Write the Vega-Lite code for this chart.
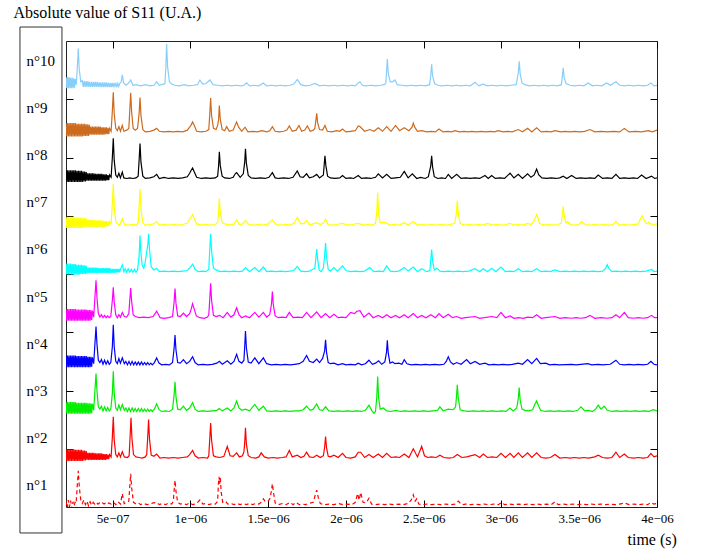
{
"$schema": "https://vega.github.io/schema/vega-lite/v6.json",
"width": 591, "height": 466,
"autosize": {"type": "none"},
"padding": {"left": 66, "top": 41, "right": 45, "bottom": 45},
"background": "white",
"config": {"view": {"stroke": "#222", "strokeWidth": 1}, "axis": {"labelFont": "Liberation Serif", "titleFont": "Liberation Serif", "labelColor": "#000", "titleColor": "#000", "tickColor": "#000", "grid": false, "domain": false}},
"data": {"values": [
{"k":10,"t":200,"y":7.38},{"k":10,"t":205,"y":7.19},{"k":10,"t":210,"y":7.38},{"k":10,"t":215,"y":7.19},{"k":10,"t":220,"y":7.38},{"k":10,"t":225,"y":7.19},{"k":10,"t":230,"y":7.37},{"k":10,"t":235,"y":7.19},{"k":10,"t":240,"y":7.37},{"k":10,"t":245,"y":7.19},{"k":10,"t":250,"y":7.36},{"k":10,"t":255,"y":7.20},{"k":10,"t":260,"y":7.35},{"k":10,"t":266,"y":7.25},{"k":10,"t":273,"y":7.55},{"k":10,"t":279,"y":7.87},{"k":10,"t":285,"y":7.52},{"k":10,"t":295,"y":7.30},{"k":10,"t":305,"y":7.32},{"k":10,"t":311,"y":7.21},{"k":10,"t":317,"y":7.31},{"k":10,"t":323,"y":7.21},{"k":10,"t":329,"y":7.31},{"k":10,"t":335,"y":7.21},{"k":10,"t":341,"y":7.31},{"k":10,"t":347,"y":7.21},{"k":10,"t":353,"y":7.30},{"k":10,"t":359,"y":7.21},{"k":10,"t":365,"y":7.30},{"k":10,"t":371,"y":7.21},{"k":10,"t":377,"y":7.30},{"k":10,"t":383,"y":7.21},{"k":10,"t":389,"y":7.30},{"k":10,"t":395,"y":7.21},{"k":10,"t":401,"y":7.30},{"k":10,"t":407,"y":7.21},{"k":10,"t":413,"y":7.29},{"k":10,"t":419,"y":7.21},{"k":10,"t":425,"y":7.29},{"k":10,"t":431,"y":7.21},{"k":10,"t":437,"y":7.29},{"k":10,"t":443,"y":7.21},{"k":10,"t":449,"y":7.29},{"k":10,"t":455,"y":7.21},{"k":10,"t":461,"y":7.29},{"k":10,"t":467,"y":7.21},{"k":10,"t":473,"y":7.28},{"k":10,"t":479,"y":7.21},{"k":10,"t":485,"y":7.28},{"k":10,"t":491,"y":7.21},{"k":10,"t":497,"y":7.28},{"k":10,"t":503,"y":7.21},{"k":10,"t":509,"y":7.28},{"k":10,"t":515,"y":7.22},{"k":10,"t":521,"y":7.27},{"k":10,"t":527,"y":7.22},{"k":10,"t":533,"y":7.27},{"k":10,"t":539,"y":7.22},{"k":10,"t":545,"y":7.27},{"k":10,"t":555,"y":7.30},{"k":10,"t":562,"y":7.42},{"k":10,"t":570,"y":7.28},{"k":10,"t":585,"y":7.24},{"k":10,"t":600,"y":7.27},{"k":10,"t":616,"y":7.33},{"k":10,"t":630,"y":7.24},{"k":10,"t":650,"y":7.25},{"k":10,"t":680,"y":7.23},{"k":10,"t":710,"y":7.25},{"k":10,"t":740,"y":7.23},{"k":10,"t":765,"y":7.24},{"k":10,"t":783,"y":7.30},{"k":10,"t":800,"y":7.24},{"k":10,"t":825,"y":7.26},{"k":10,"t":836,"y":7.27},{"k":10,"t":842,"y":7.55},{"k":10,"t":847,"y":7.95},{"k":10,"t":853,"y":7.56},{"k":10,"t":865,"y":7.30},{"k":10,"t":880,"y":7.26},{"k":10,"t":900,"y":7.24},{"k":10,"t":930,"y":7.23},{"k":10,"t":960,"y":7.25},{"k":10,"t":990,"y":7.23},{"k":10,"t":1020,"y":7.24},{"k":10,"t":1045,"y":7.25},{"k":10,"t":1061,"y":7.33},{"k":10,"t":1080,"y":7.26},{"k":10,"t":1100,"y":7.27},{"k":10,"t":1126,"y":7.33},{"k":10,"t":1145,"y":7.25},{"k":10,"t":1175,"y":7.24},{"k":10,"t":1205,"y":7.23},{"k":10,"t":1235,"y":7.24},{"k":10,"t":1265,"y":7.23},{"k":10,"t":1295,"y":7.24},{"k":10,"t":1325,"y":7.23},{"k":10,"t":1345,"y":7.24},{"k":10,"t":1361,"y":7.28},{"k":10,"t":1380,"y":7.23},{"k":10,"t":1410,"y":7.24},{"k":10,"t":1440,"y":7.23},{"k":10,"t":1469,"y":7.28},{"k":10,"t":1490,"y":7.23},{"k":10,"t":1520,"y":7.24},{"k":10,"t":1550,"y":7.23},{"k":10,"t":1580,"y":7.24},{"k":10,"t":1610,"y":7.23},{"k":10,"t":1640,"y":7.24},{"k":10,"t":1665,"y":7.26},{"k":10,"t":1687,"y":7.34},{"k":10,"t":1710,"y":7.25},{"k":10,"t":1740,"y":7.23},{"k":10,"t":1770,"y":7.24},{"k":10,"t":1801,"y":7.27},{"k":10,"t":1830,"y":7.23},{"k":10,"t":1860,"y":7.24},{"k":10,"t":1890,"y":7.23},{"k":10,"t":1920,"y":7.24},{"k":10,"t":1950,"y":7.23},{"k":10,"t":1980,"y":7.24},{"k":10,"t":2010,"y":7.23},{"k":10,"t":2040,"y":7.24},{"k":10,"t":2060,"y":7.23},{"k":10,"t":2079,"y":7.28},{"k":10,"t":2090,"y":7.30},{"k":10,"t":2105,"y":7.24},{"k":10,"t":2130,"y":7.23},{"k":10,"t":2160,"y":7.24},{"k":10,"t":2190,"y":7.23},{"k":10,"t":2220,"y":7.24},{"k":10,"t":2245,"y":7.25},{"k":10,"t":2256,"y":7.27},{"k":10,"t":2261,"y":7.46},{"k":10,"t":2266,"y":7.69},{"k":10,"t":2272,"y":7.45},{"k":10,"t":2285,"y":7.30},{"k":10,"t":2300,"y":7.30},{"k":10,"t":2315,"y":7.33},{"k":10,"t":2330,"y":7.25},{"k":10,"t":2360,"y":7.24},{"k":10,"t":2390,"y":7.23},{"k":10,"t":2420,"y":7.24},{"k":10,"t":2450,"y":7.23},{"k":10,"t":2480,"y":7.24},{"k":10,"t":2510,"y":7.23},{"k":10,"t":2538,"y":7.25},{"k":10,"t":2545,"y":7.40},{"k":10,"t":2551,"y":7.60},{"k":10,"t":2557,"y":7.40},{"k":10,"t":2570,"y":7.27},{"k":10,"t":2590,"y":7.24},{"k":10,"t":2620,"y":7.23},{"k":10,"t":2650,"y":7.24},{"k":10,"t":2680,"y":7.23},{"k":10,"t":2710,"y":7.24},{"k":10,"t":2740,"y":7.23},{"k":10,"t":2770,"y":7.24},{"k":10,"t":2800,"y":7.23},{"k":10,"t":2830,"y":7.29},{"k":10,"t":2855,"y":7.23},{"k":10,"t":2883,"y":7.26},{"k":10,"t":2910,"y":7.23},{"k":10,"t":2940,"y":7.24},{"k":10,"t":2970,"y":7.23},{"k":10,"t":3000,"y":7.24},{"k":10,"t":3030,"y":7.23},{"k":10,"t":3060,"y":7.24},{"k":10,"t":3095,"y":7.25},{"k":10,"t":3108,"y":7.45},{"k":10,"t":3114,"y":7.65},{"k":10,"t":3120,"y":7.44},{"k":10,"t":3132,"y":7.28},{"k":10,"t":3150,"y":7.25},{"k":10,"t":3180,"y":7.23},{"k":10,"t":3210,"y":7.24},{"k":10,"t":3240,"y":7.23},{"k":10,"t":3270,"y":7.24},{"k":10,"t":3300,"y":7.23},{"k":10,"t":3330,"y":7.24},{"k":10,"t":3360,"y":7.23},{"k":10,"t":3385,"y":7.25},{"k":10,"t":3391,"y":7.38},{"k":10,"t":3397,"y":7.54},{"k":10,"t":3403,"y":7.37},{"k":10,"t":3415,"y":7.27},{"k":10,"t":3440,"y":7.24},{"k":10,"t":3470,"y":7.23},{"k":10,"t":3500,"y":7.24},{"k":10,"t":3530,"y":7.23},{"k":10,"t":3558,"y":7.28},{"k":10,"t":3585,"y":7.23},{"k":10,"t":3615,"y":7.24},{"k":10,"t":3645,"y":7.23},{"k":10,"t":3676,"y":7.28},{"k":10,"t":3700,"y":7.24},{"k":10,"t":3736,"y":7.30},{"k":10,"t":3760,"y":7.24},{"k":10,"t":3790,"y":7.23},{"k":10,"t":3820,"y":7.24},{"k":10,"t":3850,"y":7.23},{"k":10,"t":3880,"y":7.24},{"k":10,"t":3910,"y":7.23},{"k":10,"t":3940,"y":7.24},{"k":10,"t":3961,"y":7.28},{"k":10,"t":3980,"y":7.23},{"k":10,"t":4000,"y":7.24},
{"k":9,"t":200,"y":6.59},{"k":9,"t":205,"y":6.36},{"k":9,"t":210,"y":6.59},{"k":9,"t":215,"y":6.36},{"k":9,"t":220,"y":6.59},{"k":9,"t":225,"y":6.36},{"k":9,"t":230,"y":6.59},{"k":9,"t":235,"y":6.36},{"k":9,"t":240,"y":6.59},{"k":9,"t":245,"y":6.36},{"k":9,"t":250,"y":6.59},{"k":9,"t":255,"y":6.36},{"k":9,"t":260,"y":6.59},{"k":9,"t":265,"y":6.36},{"k":9,"t":270,"y":6.58},{"k":9,"t":275,"y":6.36},{"k":9,"t":280,"y":6.58},{"k":9,"t":285,"y":6.36},{"k":9,"t":290,"y":6.58},{"k":9,"t":295,"y":6.36},{"k":9,"t":300,"y":6.58},{"k":9,"t":305,"y":6.36},{"k":9,"t":310,"y":6.58},{"k":9,"t":315,"y":6.37},{"k":9,"t":320,"y":6.58},{"k":9,"t":325,"y":6.37},{"k":9,"t":330,"y":6.57},{"k":9,"t":335,"y":6.37},{"k":9,"t":340,"y":6.57},{"k":9,"t":345,"y":6.37},{"k":9,"t":350,"y":6.56},{"k":9,"t":355,"y":6.39},{"k":9,"t":360,"y":6.53},{"k":9,"t":365,"y":6.39},{"k":9,"t":370,"y":6.53},{"k":9,"t":375,"y":6.39},{"k":9,"t":380,"y":6.53},{"k":9,"t":385,"y":6.39},{"k":9,"t":390,"y":6.53},{"k":9,"t":395,"y":6.39},{"k":9,"t":400,"y":6.53},{"k":9,"t":405,"y":6.39},{"k":9,"t":410,"y":6.53},{"k":9,"t":415,"y":6.39},{"k":9,"t":420,"y":6.53},{"k":9,"t":425,"y":6.39},{"k":9,"t":430,"y":6.52},{"k":9,"t":435,"y":6.39},{"k":9,"t":440,"y":6.52},{"k":9,"t":445,"y":6.39},{"k":9,"t":450,"y":6.52},{"k":9,"t":455,"y":6.40},{"k":9,"t":460,"y":6.52},{"k":9,"t":465,"y":6.40},{"k":9,"t":470,"y":6.51},{"k":9,"t":475,"y":6.40},{"k":9,"t":480,"y":6.50},{"k":9,"t":490,"y":6.45},{"k":9,"t":498,"y":6.80},{"k":9,"t":504,"y":7.12},{"k":9,"t":510,"y":6.75},{"k":9,"t":520,"y":6.50},{"k":9,"t":530,"y":6.46},{"k":9,"t":540,"y":6.53},{"k":9,"t":550,"y":6.45},{"k":9,"t":562,"y":6.55},{"k":9,"t":572,"y":6.45},{"k":9,"t":590,"y":6.47},{"k":9,"t":604,"y":6.50},{"k":9,"t":610,"y":6.80},{"k":9,"t":616,"y":7.11},{"k":9,"t":622,"y":6.78},{"k":9,"t":632,"y":6.50},{"k":9,"t":645,"y":6.47},{"k":9,"t":660,"y":6.50},{"k":9,"t":670,"y":6.75},{"k":9,"t":676,"y":7.03},{"k":9,"t":682,"y":6.72},{"k":9,"t":694,"y":6.48},{"k":9,"t":710,"y":6.44},{"k":9,"t":740,"y":6.45},{"k":9,"t":765,"y":6.47},{"k":9,"t":783,"y":6.50},{"k":9,"t":800,"y":6.45},{"k":9,"t":830,"y":6.44},{"k":9,"t":860,"y":6.45},{"k":9,"t":890,"y":6.44},{"k":9,"t":920,"y":6.45},{"k":9,"t":950,"y":6.44},{"k":9,"t":980,"y":6.47},{"k":9,"t":995,"y":6.52},{"k":9,"t":1005,"y":6.56},{"k":9,"t":1014,"y":6.61},{"k":9,"t":1025,"y":6.55},{"k":9,"t":1040,"y":6.45},{"k":9,"t":1070,"y":6.44},{"k":9,"t":1100,"y":6.45},{"k":9,"t":1118,"y":6.48},{"k":9,"t":1124,"y":6.72},{"k":9,"t":1130,"y":7.02},{"k":9,"t":1136,"y":6.72},{"k":9,"t":1148,"y":6.50},{"k":9,"t":1165,"y":6.48},{"k":9,"t":1175,"y":6.55},{"k":9,"t":1181,"y":6.65},{"k":9,"t":1186,"y":6.89},{"k":9,"t":1192,"y":6.66},{"k":9,"t":1204,"y":6.48},{"k":9,"t":1220,"y":6.46},{"k":9,"t":1233,"y":6.53},{"k":9,"t":1250,"y":6.45},{"k":9,"t":1275,"y":6.47},{"k":9,"t":1287,"y":6.55},{"k":9,"t":1297,"y":6.61},{"k":9,"t":1310,"y":6.52},{"k":9,"t":1330,"y":6.45},{"k":9,"t":1351,"y":6.52},{"k":9,"t":1370,"y":6.44},{"k":9,"t":1400,"y":6.45},{"k":9,"t":1430,"y":6.44},{"k":9,"t":1460,"y":6.46},{"k":9,"t":1490,"y":6.44},{"k":9,"t":1510,"y":6.46},{"k":9,"t":1527,"y":6.53},{"k":9,"t":1545,"y":6.45},{"k":9,"t":1570,"y":6.44},{"k":9,"t":1600,"y":6.45},{"k":9,"t":1620,"y":6.47},{"k":9,"t":1636,"y":6.54},{"k":9,"t":1655,"y":6.45},{"k":9,"t":1680,"y":6.47},{"k":9,"t":1698,"y":6.55},{"k":9,"t":1715,"y":6.45},{"k":9,"t":1735,"y":6.47},{"k":9,"t":1752,"y":6.54},{"k":9,"t":1770,"y":6.45},{"k":9,"t":1790,"y":6.47},{"k":9,"t":1800,"y":6.50},{"k":9,"t":1806,"y":6.62},{"k":9,"t":1812,"y":6.76},{"k":9,"t":1818,"y":6.60},{"k":9,"t":1830,"y":6.48},{"k":9,"t":1850,"y":6.47},{"k":9,"t":1865,"y":6.55},{"k":9,"t":1880,"y":6.45},{"k":9,"t":1910,"y":6.44},{"k":9,"t":1940,"y":6.46},{"k":9,"t":1960,"y":6.45},{"k":9,"t":1978,"y":6.49},{"k":9,"t":2000,"y":6.44},{"k":9,"t":2030,"y":6.45},{"k":9,"t":2060,"y":6.46},{"k":9,"t":2079,"y":6.54},{"k":9,"t":2090,"y":6.53},{"k":9,"t":2120,"y":6.45},{"k":9,"t":2154,"y":6.48},{"k":9,"t":2180,"y":6.45},{"k":9,"t":2208,"y":6.51},{"k":9,"t":2235,"y":6.45},{"k":9,"t":2262,"y":6.53},{"k":9,"t":2290,"y":6.45},{"k":9,"t":2319,"y":6.55},{"k":9,"t":2345,"y":6.46},{"k":9,"t":2375,"y":6.51},{"k":9,"t":2405,"y":6.46},{"k":9,"t":2425,"y":6.52},{"k":9,"t":2433,"y":6.59},{"k":9,"t":2442,"y":6.52},{"k":9,"t":2460,"y":6.45},{"k":9,"t":2487,"y":6.46},{"k":9,"t":2520,"y":6.44},{"k":9,"t":2550,"y":6.45},{"k":9,"t":2575,"y":6.44},{"k":9,"t":2598,"y":6.49},{"k":9,"t":2625,"y":6.44},{"k":9,"t":2655,"y":6.45},{"k":9,"t":2680,"y":6.44},{"k":9,"t":2701,"y":6.46},{"k":9,"t":2730,"y":6.44},{"k":9,"t":2760,"y":6.45},{"k":9,"t":2785,"y":6.44},{"k":9,"t":2808,"y":6.45},{"k":9,"t":2840,"y":6.44},{"k":9,"t":2870,"y":6.45},{"k":9,"t":2900,"y":6.44},{"k":9,"t":2930,"y":6.45},{"k":9,"t":2955,"y":6.44},{"k":9,"t":2979,"y":6.46},{"k":9,"t":3010,"y":6.44},{"k":9,"t":3040,"y":6.45},{"k":9,"t":3070,"y":6.44},{"k":9,"t":3108,"y":6.48},{"k":9,"t":3135,"y":6.44},{"k":9,"t":3168,"y":6.50},{"k":9,"t":3195,"y":6.44},{"k":9,"t":3226,"y":6.51},{"k":9,"t":3255,"y":6.44},{"k":9,"t":3290,"y":6.45},{"k":9,"t":3320,"y":6.44},{"k":9,"t":3344,"y":6.46},{"k":9,"t":3380,"y":6.44},{"k":9,"t":3410,"y":6.45},{"k":9,"t":3440,"y":6.44},{"k":9,"t":3470,"y":6.45},{"k":9,"t":3500,"y":6.44},{"k":9,"t":3535,"y":6.45},{"k":9,"t":3569,"y":6.48},{"k":9,"t":3600,"y":6.44},{"k":9,"t":3640,"y":6.45},{"k":9,"t":3680,"y":6.44},{"k":9,"t":3720,"y":6.45},{"k":9,"t":3760,"y":6.44},{"k":9,"t":3790,"y":6.50},{"k":9,"t":3820,"y":6.44},{"k":9,"t":3860,"y":6.45},{"k":9,"t":3900,"y":6.44},{"k":9,"t":3944,"y":6.46},{"k":9,"t":3970,"y":6.44},{"k":9,"t":4000,"y":6.47},
{"k":8,"t":200,"y":5.78},{"k":8,"t":205,"y":5.58},{"k":8,"t":210,"y":5.78},{"k":8,"t":215,"y":5.58},{"k":8,"t":220,"y":5.78},{"k":8,"t":225,"y":5.58},{"k":8,"t":230,"y":5.78},{"k":8,"t":235,"y":5.58},{"k":8,"t":240,"y":5.78},{"k":8,"t":245,"y":5.58},{"k":8,"t":250,"y":5.78},{"k":8,"t":255,"y":5.58},{"k":8,"t":260,"y":5.78},{"k":8,"t":265,"y":5.58},{"k":8,"t":270,"y":5.77},{"k":8,"t":275,"y":5.58},{"k":8,"t":280,"y":5.77},{"k":8,"t":285,"y":5.58},{"k":8,"t":290,"y":5.77},{"k":8,"t":295,"y":5.58},{"k":8,"t":300,"y":5.77},{"k":8,"t":305,"y":5.58},{"k":8,"t":310,"y":5.76},{"k":8,"t":315,"y":5.59},{"k":8,"t":320,"y":5.76},{"k":8,"t":325,"y":5.59},{"k":8,"t":330,"y":5.75},{"k":8,"t":335,"y":5.60},{"k":8,"t":340,"y":5.73},{"k":8,"t":345,"y":5.60},{"k":8,"t":350,"y":5.73},{"k":8,"t":355,"y":5.60},{"k":8,"t":360,"y":5.73},{"k":8,"t":365,"y":5.60},{"k":8,"t":370,"y":5.73},{"k":8,"t":375,"y":5.60},{"k":8,"t":380,"y":5.73},{"k":8,"t":385,"y":5.60},{"k":8,"t":390,"y":5.72},{"k":8,"t":395,"y":5.60},{"k":8,"t":400,"y":5.72},{"k":8,"t":405,"y":5.60},{"k":8,"t":410,"y":5.72},{"k":8,"t":415,"y":5.60},{"k":8,"t":420,"y":5.72},{"k":8,"t":425,"y":5.60},{"k":8,"t":430,"y":5.72},{"k":8,"t":435,"y":5.60},{"k":8,"t":440,"y":5.71},{"k":8,"t":445,"y":5.60},{"k":8,"t":450,"y":5.71},{"k":8,"t":455,"y":5.60},{"k":8,"t":460,"y":5.71},{"k":8,"t":465,"y":5.61},{"k":8,"t":470,"y":5.70},{"k":8,"t":475,"y":5.61},{"k":8,"t":480,"y":5.70},{"k":8,"t":490,"y":5.66},{"k":8,"t":498,"y":6.00},{"k":8,"t":504,"y":6.33},{"k":8,"t":510,"y":5.95},{"k":8,"t":520,"y":5.70},{"k":8,"t":530,"y":5.66},{"k":8,"t":540,"y":5.73},{"k":8,"t":550,"y":5.65},{"k":8,"t":562,"y":5.75},{"k":8,"t":572,"y":5.65},{"k":8,"t":590,"y":5.64},{"k":8,"t":610,"y":5.65},{"k":8,"t":630,"y":5.64},{"k":8,"t":650,"y":5.65},{"k":8,"t":664,"y":5.68},{"k":8,"t":670,"y":5.95},{"k":8,"t":676,"y":6.24},{"k":8,"t":682,"y":5.92},{"k":8,"t":694,"y":5.68},{"k":8,"t":710,"y":5.64},{"k":8,"t":740,"y":5.65},{"k":8,"t":765,"y":5.67},{"k":8,"t":783,"y":5.71},{"k":8,"t":800,"y":5.64},{"k":8,"t":830,"y":5.66},{"k":8,"t":860,"y":5.64},{"k":8,"t":890,"y":5.65},{"k":8,"t":920,"y":5.64},{"k":8,"t":950,"y":5.65},{"k":8,"t":980,"y":5.67},{"k":8,"t":995,"y":5.73},{"k":8,"t":1005,"y":5.78},{"k":8,"t":1014,"y":5.82},{"k":8,"t":1025,"y":5.75},{"k":8,"t":1040,"y":5.66},{"k":8,"t":1070,"y":5.64},{"k":8,"t":1100,"y":5.65},{"k":8,"t":1130,"y":5.64},{"k":8,"t":1160,"y":5.65},{"k":8,"t":1175,"y":5.68},{"k":8,"t":1181,"y":5.85},{"k":8,"t":1186,"y":6.10},{"k":8,"t":1192,"y":5.86},{"k":8,"t":1204,"y":5.68},{"k":8,"t":1220,"y":5.65},{"k":8,"t":1250,"y":5.64},{"k":8,"t":1275,"y":5.66},{"k":8,"t":1288,"y":5.72},{"k":8,"t":1297,"y":5.74},{"k":8,"t":1308,"y":5.70},{"k":8,"t":1320,"y":5.66},{"k":8,"t":1340,"y":5.72},{"k":8,"t":1349,"y":5.92},{"k":8,"t":1354,"y":6.15},{"k":8,"t":1360,"y":5.90},{"k":8,"t":1372,"y":5.69},{"k":8,"t":1390,"y":5.65},{"k":8,"t":1420,"y":5.64},{"k":8,"t":1450,"y":5.65},{"k":8,"t":1480,"y":5.64},{"k":8,"t":1505,"y":5.66},{"k":8,"t":1527,"y":5.74},{"k":8,"t":1545,"y":5.65},{"k":8,"t":1570,"y":5.64},{"k":8,"t":1600,"y":5.65},{"k":8,"t":1630,"y":5.64},{"k":8,"t":1660,"y":5.66},{"k":8,"t":1687,"y":5.77},{"k":8,"t":1705,"y":5.67},{"k":8,"t":1725,"y":5.66},{"k":8,"t":1747,"y":5.72},{"k":8,"t":1765,"y":5.65},{"k":8,"t":1790,"y":5.67},{"k":8,"t":1812,"y":5.71},{"k":8,"t":1830,"y":5.65},{"k":8,"t":1855,"y":5.70},{"k":8,"t":1860,"y":5.87},{"k":8,"t":1865,"y":6.03},{"k":8,"t":1871,"y":5.86},{"k":8,"t":1882,"y":5.68},{"k":8,"t":1900,"y":5.65},{"k":8,"t":1930,"y":5.64},{"k":8,"t":1960,"y":5.65},{"k":8,"t":1978,"y":5.69},{"k":8,"t":2000,"y":5.64},{"k":8,"t":2030,"y":5.65},{"k":8,"t":2050,"y":5.64},{"k":8,"t":2079,"y":5.69},{"k":8,"t":2100,"y":5.64},{"k":8,"t":2130,"y":5.65},{"k":8,"t":2160,"y":5.64},{"k":8,"t":2190,"y":5.66},{"k":8,"t":2208,"y":5.72},{"k":8,"t":2235,"y":5.65},{"k":8,"t":2262,"y":5.71},{"k":8,"t":2290,"y":5.64},{"k":8,"t":2320,"y":5.65},{"k":8,"t":2350,"y":5.66},{"k":8,"t":2375,"y":5.76},{"k":8,"t":2400,"y":5.65},{"k":8,"t":2427,"y":5.72},{"k":8,"t":2455,"y":5.64},{"k":8,"t":2480,"y":5.66},{"k":8,"t":2510,"y":5.64},{"k":8,"t":2530,"y":5.67},{"k":8,"t":2545,"y":5.85},{"k":8,"t":2551,"y":6.03},{"k":8,"t":2557,"y":5.84},{"k":8,"t":2568,"y":5.67},{"k":8,"t":2590,"y":5.64},{"k":8,"t":2615,"y":5.65},{"k":8,"t":2640,"y":5.64},{"k":8,"t":2658,"y":5.71},{"k":8,"t":2680,"y":5.64},{"k":8,"t":2712,"y":5.71},{"k":8,"t":2740,"y":5.64},{"k":8,"t":2770,"y":5.65},{"k":8,"t":2800,"y":5.64},{"k":8,"t":2830,"y":5.65},{"k":8,"t":2860,"y":5.64},{"k":8,"t":2894,"y":5.69},{"k":8,"t":2915,"y":5.64},{"k":8,"t":2937,"y":5.69},{"k":8,"t":2960,"y":5.64},{"k":8,"t":2990,"y":5.65},{"k":8,"t":3020,"y":5.64},{"k":8,"t":3055,"y":5.73},{"k":8,"t":3080,"y":5.65},{"k":8,"t":3108,"y":5.71},{"k":8,"t":3135,"y":5.64},{"k":8,"t":3168,"y":5.72},{"k":8,"t":3190,"y":5.66},{"k":8,"t":3210,"y":5.70},{"k":8,"t":3226,"y":5.80},{"k":8,"t":3240,"y":5.70},{"k":8,"t":3260,"y":5.65},{"k":8,"t":3290,"y":5.64},{"k":8,"t":3320,"y":5.65},{"k":8,"t":3350,"y":5.64},{"k":8,"t":3375,"y":5.65},{"k":8,"t":3397,"y":5.68},{"k":8,"t":3420,"y":5.64},{"k":8,"t":3451,"y":5.69},{"k":8,"t":3480,"y":5.64},{"k":8,"t":3510,"y":5.65},{"k":8,"t":3540,"y":5.64},{"k":8,"t":3570,"y":5.65},{"k":8,"t":3600,"y":5.64},{"k":8,"t":3622,"y":5.70},{"k":8,"t":3650,"y":5.64},{"k":8,"t":3680,"y":5.65},{"k":8,"t":3710,"y":5.64},{"k":8,"t":3736,"y":5.71},{"k":8,"t":3760,"y":5.64},{"k":8,"t":3790,"y":5.65},{"k":8,"t":3820,"y":5.64},{"k":8,"t":3850,"y":5.65},{"k":8,"t":3875,"y":5.64},{"k":8,"t":3901,"y":5.70},{"k":8,"t":3930,"y":5.64},{"k":8,"t":3965,"y":5.68},{"k":8,"t":3985,"y":5.64},{"k":8,"t":4000,"y":5.65},
{"k":7,"t":200,"y":4.98},{"k":7,"t":205,"y":4.79},{"k":7,"t":210,"y":4.98},{"k":7,"t":215,"y":4.79},{"k":7,"t":220,"y":4.98},{"k":7,"t":225,"y":4.79},{"k":7,"t":230,"y":4.98},{"k":7,"t":235,"y":4.79},{"k":7,"t":240,"y":4.98},{"k":7,"t":245,"y":4.79},{"k":7,"t":250,"y":4.98},{"k":7,"t":255,"y":4.79},{"k":7,"t":260,"y":4.97},{"k":7,"t":265,"y":4.79},{"k":7,"t":270,"y":4.97},{"k":7,"t":275,"y":4.79},{"k":7,"t":280,"y":4.97},{"k":7,"t":285,"y":4.79},{"k":7,"t":290,"y":4.97},{"k":7,"t":295,"y":4.79},{"k":7,"t":300,"y":4.97},{"k":7,"t":305,"y":4.79},{"k":7,"t":310,"y":4.96},{"k":7,"t":315,"y":4.80},{"k":7,"t":320,"y":4.96},{"k":7,"t":325,"y":4.80},{"k":7,"t":330,"y":4.95},{"k":7,"t":335,"y":4.81},{"k":7,"t":340,"y":4.93},{"k":7,"t":345,"y":4.81},{"k":7,"t":350,"y":4.93},{"k":7,"t":355,"y":4.81},{"k":7,"t":360,"y":4.93},{"k":7,"t":365,"y":4.81},{"k":7,"t":370,"y":4.93},{"k":7,"t":375,"y":4.81},{"k":7,"t":380,"y":4.93},{"k":7,"t":385,"y":4.81},{"k":7,"t":390,"y":4.92},{"k":7,"t":395,"y":4.81},{"k":7,"t":400,"y":4.92},{"k":7,"t":405,"y":4.81},{"k":7,"t":410,"y":4.92},{"k":7,"t":415,"y":4.81},{"k":7,"t":420,"y":4.92},{"k":7,"t":425,"y":4.81},{"k":7,"t":430,"y":4.92},{"k":7,"t":435,"y":4.81},{"k":7,"t":440,"y":4.91},{"k":7,"t":445,"y":4.81},{"k":7,"t":450,"y":4.91},{"k":7,"t":455,"y":4.81},{"k":7,"t":460,"y":4.91},{"k":7,"t":465,"y":4.82},{"k":7,"t":470,"y":4.90},{"k":7,"t":475,"y":4.82},{"k":7,"t":480,"y":4.90},{"k":7,"t":490,"y":4.86},{"k":7,"t":498,"y":5.21},{"k":7,"t":504,"y":5.55},{"k":7,"t":510,"y":5.15},{"k":7,"t":520,"y":4.90},{"k":7,"t":530,"y":4.86},{"k":7,"t":545,"y":4.84},{"k":7,"t":562,"y":4.95},{"k":7,"t":575,"y":4.85},{"k":7,"t":600,"y":4.84},{"k":7,"t":630,"y":4.85},{"k":7,"t":655,"y":4.84},{"k":7,"t":664,"y":4.88},{"k":7,"t":670,"y":5.15},{"k":7,"t":676,"y":5.46},{"k":7,"t":682,"y":5.12},{"k":7,"t":694,"y":4.88},{"k":7,"t":710,"y":4.84},{"k":7,"t":740,"y":4.85},{"k":7,"t":765,"y":4.86},{"k":7,"t":783,"y":4.90},{"k":7,"t":800,"y":4.84},{"k":7,"t":830,"y":4.85},{"k":7,"t":860,"y":4.84},{"k":7,"t":890,"y":4.85},{"k":7,"t":920,"y":4.84},{"k":7,"t":950,"y":4.85},{"k":7,"t":980,"y":4.87},{"k":7,"t":995,"y":4.94},{"k":7,"t":1005,"y":4.98},{"k":7,"t":1014,"y":5.02},{"k":7,"t":1025,"y":4.95},{"k":7,"t":1040,"y":4.86},{"k":7,"t":1070,"y":4.84},{"k":7,"t":1100,"y":4.85},{"k":7,"t":1130,"y":4.84},{"k":7,"t":1160,"y":4.85},{"k":7,"t":1175,"y":4.88},{"k":7,"t":1181,"y":5.05},{"k":7,"t":1186,"y":5.30},{"k":7,"t":1192,"y":5.06},{"k":7,"t":1204,"y":4.88},{"k":7,"t":1220,"y":4.86},{"k":7,"t":1250,"y":4.84},{"k":7,"t":1280,"y":4.86},{"k":7,"t":1297,"y":4.93},{"k":7,"t":1315,"y":4.85},{"k":7,"t":1335,"y":4.86},{"k":7,"t":1354,"y":4.92},{"k":7,"t":1375,"y":4.85},{"k":7,"t":1410,"y":4.84},{"k":7,"t":1440,"y":4.85},{"k":7,"t":1470,"y":4.84},{"k":7,"t":1500,"y":4.86},{"k":7,"t":1527,"y":4.93},{"k":7,"t":1550,"y":4.85},{"k":7,"t":1580,"y":4.84},{"k":7,"t":1610,"y":4.85},{"k":7,"t":1640,"y":4.84},{"k":7,"t":1665,"y":4.87},{"k":7,"t":1687,"y":4.97},{"k":7,"t":1710,"y":4.86},{"k":7,"t":1730,"y":4.87},{"k":7,"t":1747,"y":4.92},{"k":7,"t":1765,"y":4.85},{"k":7,"t":1790,"y":4.86},{"k":7,"t":1812,"y":4.88},{"k":7,"t":1835,"y":4.85},{"k":7,"t":1855,"y":4.88},{"k":7,"t":1869,"y":4.94},{"k":7,"t":1885,"y":4.85},{"k":7,"t":1910,"y":4.84},{"k":7,"t":1940,"y":4.85},{"k":7,"t":1978,"y":4.87},{"k":7,"t":2010,"y":4.84},{"k":7,"t":2040,"y":4.85},{"k":7,"t":2079,"y":4.87},{"k":7,"t":2110,"y":4.84},{"k":7,"t":2140,"y":4.85},{"k":7,"t":2170,"y":4.84},{"k":7,"t":2190,"y":4.87},{"k":7,"t":2198,"y":5.05},{"k":7,"t":2204,"y":5.40},{"k":7,"t":2210,"y":5.03},{"k":7,"t":2220,"y":4.88},{"k":7,"t":2240,"y":4.89},{"k":7,"t":2258,"y":4.88},{"k":7,"t":2280,"y":4.84},{"k":7,"t":2310,"y":4.85},{"k":7,"t":2340,"y":4.84},{"k":7,"t":2375,"y":4.88},{"k":7,"t":2400,"y":4.84},{"k":7,"t":2433,"y":4.90},{"k":7,"t":2460,"y":4.84},{"k":7,"t":2490,"y":4.85},{"k":7,"t":2520,"y":4.84},{"k":7,"t":2550,"y":4.85},{"k":7,"t":2580,"y":4.84},{"k":7,"t":2610,"y":4.85},{"k":7,"t":2640,"y":4.84},{"k":7,"t":2670,"y":4.85},{"k":7,"t":2700,"y":4.87},{"k":7,"t":2710,"y":5.05},{"k":7,"t":2716,"y":5.26},{"k":7,"t":2722,"y":5.04},{"k":7,"t":2734,"y":4.87},{"k":7,"t":2760,"y":4.84},{"k":7,"t":2790,"y":4.85},{"k":7,"t":2820,"y":4.84},{"k":7,"t":2850,"y":4.85},{"k":7,"t":2880,"y":4.84},{"k":7,"t":2910,"y":4.87},{"k":7,"t":2940,"y":4.84},{"k":7,"t":2970,"y":4.85},{"k":7,"t":3000,"y":4.84},{"k":7,"t":3030,"y":4.85},{"k":7,"t":3055,"y":4.87},{"k":7,"t":3080,"y":4.84},{"k":7,"t":3110,"y":4.85},{"k":7,"t":3140,"y":4.84},{"k":7,"t":3168,"y":4.87},{"k":7,"t":3190,"y":4.85},{"k":7,"t":3210,"y":4.92},{"k":7,"t":3220,"y":4.98},{"k":7,"t":3226,"y":5.02},{"k":7,"t":3234,"y":4.97},{"k":7,"t":3245,"y":4.87},{"k":7,"t":3270,"y":4.84},{"k":7,"t":3300,"y":4.85},{"k":7,"t":3330,"y":4.84},{"k":7,"t":3360,"y":4.85},{"k":7,"t":3385,"y":4.87},{"k":7,"t":3391,"y":5.02},{"k":7,"t":3397,"y":5.16},{"k":7,"t":3403,"y":5.00},{"k":7,"t":3414,"y":4.88},{"k":7,"t":3425,"y":4.90},{"k":7,"t":3440,"y":4.85},{"k":7,"t":3470,"y":4.84},{"k":7,"t":3500,"y":4.85},{"k":7,"t":3515,"y":4.90},{"k":7,"t":3540,"y":4.85},{"k":7,"t":3570,"y":4.84},{"k":7,"t":3600,"y":4.85},{"k":7,"t":3630,"y":4.84},{"k":7,"t":3660,"y":4.85},{"k":7,"t":3690,"y":4.84},{"k":7,"t":3720,"y":4.85},{"k":7,"t":3736,"y":4.90},{"k":7,"t":3760,"y":4.84},{"k":7,"t":3790,"y":4.85},{"k":7,"t":3820,"y":4.84},{"k":7,"t":3850,"y":4.85},{"k":7,"t":3880,"y":4.86},{"k":7,"t":3893,"y":4.95},{"k":7,"t":3905,"y":5.00},{"k":7,"t":3917,"y":4.93},{"k":7,"t":3930,"y":4.86},{"k":7,"t":3945,"y":4.89},{"k":7,"t":3960,"y":4.86},{"k":7,"t":3980,"y":4.85},{"k":7,"t":4000,"y":4.86},
{"k":6,"t":200,"y":4.18},{"k":6,"t":205,"y":3.99},{"k":6,"t":210,"y":4.18},{"k":6,"t":215,"y":3.99},{"k":6,"t":220,"y":4.18},{"k":6,"t":225,"y":3.99},{"k":6,"t":230,"y":4.18},{"k":6,"t":235,"y":3.99},{"k":6,"t":240,"y":4.17},{"k":6,"t":245,"y":3.99},{"k":6,"t":250,"y":4.17},{"k":6,"t":255,"y":3.99},{"k":6,"t":260,"y":4.17},{"k":6,"t":265,"y":3.99},{"k":6,"t":270,"y":4.16},{"k":6,"t":275,"y":3.99},{"k":6,"t":280,"y":4.16},{"k":6,"t":285,"y":3.99},{"k":6,"t":290,"y":4.16},{"k":6,"t":295,"y":4.00},{"k":6,"t":300,"y":4.16},{"k":6,"t":305,"y":4.00},{"k":6,"t":310,"y":4.15},{"k":6,"t":315,"y":4.00},{"k":6,"t":320,"y":4.15},{"k":6,"t":325,"y":4.00},{"k":6,"t":330,"y":4.14},{"k":6,"t":335,"y":4.01},{"k":6,"t":340,"y":4.11},{"k":6,"t":345,"y":4.02},{"k":6,"t":350,"y":4.11},{"k":6,"t":355,"y":4.02},{"k":6,"t":360,"y":4.11},{"k":6,"t":365,"y":4.02},{"k":6,"t":370,"y":4.11},{"k":6,"t":375,"y":4.02},{"k":6,"t":380,"y":4.11},{"k":6,"t":385,"y":4.02},{"k":6,"t":390,"y":4.11},{"k":6,"t":395,"y":4.02},{"k":6,"t":400,"y":4.11},{"k":6,"t":405,"y":4.02},{"k":6,"t":410,"y":4.10},{"k":6,"t":415,"y":4.02},{"k":6,"t":420,"y":4.10},{"k":6,"t":425,"y":4.02},{"k":6,"t":430,"y":4.10},{"k":6,"t":435,"y":4.02},{"k":6,"t":440,"y":4.10},{"k":6,"t":445,"y":4.02},{"k":6,"t":450,"y":4.10},{"k":6,"t":455,"y":4.02},{"k":6,"t":460,"y":4.10},{"k":6,"t":465,"y":4.02},{"k":6,"t":470,"y":4.10},{"k":6,"t":475,"y":4.02},{"k":6,"t":480,"y":4.10},{"k":6,"t":485,"y":4.02},{"k":6,"t":490,"y":4.09},{"k":6,"t":495,"y":4.02},{"k":6,"t":500,"y":4.09},{"k":6,"t":505,"y":4.02},{"k":6,"t":510,"y":4.09},{"k":6,"t":515,"y":4.02},{"k":6,"t":520,"y":4.09},{"k":6,"t":525,"y":4.03},{"k":6,"t":530,"y":4.09},{"k":6,"t":535,"y":4.03},{"k":6,"t":540,"y":4.09},{"k":6,"t":545,"y":4.03},{"k":6,"t":550,"y":4.08},{"k":6,"t":562,"y":4.16},{"k":6,"t":572,"y":4.04},{"k":6,"t":580,"y":4.09},{"k":6,"t":590,"y":4.03},{"k":6,"t":600,"y":4.09},{"k":6,"t":610,"y":4.03},{"k":6,"t":620,"y":4.08},{"k":6,"t":630,"y":4.03},{"k":6,"t":640,"y":4.08},{"k":6,"t":650,"y":4.03},{"k":6,"t":660,"y":4.07},{"k":6,"t":670,"y":4.30},{"k":6,"t":676,"y":4.66},{"k":6,"t":682,"y":4.35},{"k":6,"t":690,"y":4.15},{"k":6,"t":700,"y":4.10},{"k":6,"t":708,"y":4.18},{"k":6,"t":720,"y":4.40},{"k":6,"t":726,"y":4.50},{"k":6,"t":731,"y":4.69},{"k":6,"t":737,"y":4.42},{"k":6,"t":748,"y":4.12},{"k":6,"t":765,"y":4.07},{"k":6,"t":783,"y":4.10},{"k":6,"t":800,"y":4.04},{"k":6,"t":830,"y":4.05},{"k":6,"t":860,"y":4.04},{"k":6,"t":890,"y":4.05},{"k":6,"t":920,"y":4.04},{"k":6,"t":950,"y":4.05},{"k":6,"t":980,"y":4.06},{"k":6,"t":995,"y":4.10},{"k":6,"t":1014,"y":4.17},{"k":6,"t":1030,"y":4.08},{"k":6,"t":1050,"y":4.04},{"k":6,"t":1080,"y":4.05},{"k":6,"t":1100,"y":4.04},{"k":6,"t":1118,"y":4.08},{"k":6,"t":1124,"y":4.40},{"k":6,"t":1130,"y":4.69},{"k":6,"t":1136,"y":4.40},{"k":6,"t":1148,"y":4.10},{"k":6,"t":1165,"y":4.07},{"k":6,"t":1190,"y":4.04},{"k":6,"t":1220,"y":4.05},{"k":6,"t":1250,"y":4.04},{"k":6,"t":1280,"y":4.05},{"k":6,"t":1310,"y":4.04},{"k":6,"t":1335,"y":4.05},{"k":6,"t":1354,"y":4.11},{"k":6,"t":1380,"y":4.04},{"k":6,"t":1414,"y":4.11},{"k":6,"t":1440,"y":4.04},{"k":6,"t":1469,"y":4.12},{"k":6,"t":1490,"y":4.04},{"k":6,"t":1520,"y":4.05},{"k":6,"t":1550,"y":4.04},{"k":6,"t":1580,"y":4.05},{"k":6,"t":1610,"y":4.04},{"k":6,"t":1640,"y":4.05},{"k":6,"t":1665,"y":4.06},{"k":6,"t":1687,"y":4.13},{"k":6,"t":1710,"y":4.05},{"k":6,"t":1740,"y":4.04},{"k":6,"t":1765,"y":4.05},{"k":6,"t":1800,"y":4.10},{"k":6,"t":1806,"y":4.26},{"k":6,"t":1812,"y":4.43},{"k":6,"t":1818,"y":4.25},{"k":6,"t":1828,"y":4.07},{"k":6,"t":1840,"y":4.04},{"k":6,"t":1855,"y":4.10},{"k":6,"t":1863,"y":4.32},{"k":6,"t":1869,"y":4.53},{"k":6,"t":1875,"y":4.30},{"k":6,"t":1886,"y":4.08},{"k":6,"t":1900,"y":4.05},{"k":6,"t":1923,"y":4.11},{"k":6,"t":1945,"y":4.05},{"k":6,"t":1978,"y":4.14},{"k":6,"t":2000,"y":4.06},{"k":6,"t":2030,"y":4.04},{"k":6,"t":2060,"y":4.05},{"k":6,"t":2090,"y":4.04},{"k":6,"t":2120,"y":4.05},{"k":6,"t":2154,"y":4.11},{"k":6,"t":2180,"y":4.04},{"k":6,"t":2210,"y":4.05},{"k":6,"t":2240,"y":4.04},{"k":6,"t":2262,"y":4.14},{"k":6,"t":2285,"y":4.05},{"k":6,"t":2310,"y":4.04},{"k":6,"t":2340,"y":4.05},{"k":6,"t":2375,"y":4.11},{"k":6,"t":2400,"y":4.05},{"k":6,"t":2433,"y":4.12},{"k":6,"t":2460,"y":4.04},{"k":6,"t":2487,"y":4.09},{"k":6,"t":2520,"y":4.04},{"k":6,"t":2540,"y":4.06},{"k":6,"t":2545,"y":4.24},{"k":6,"t":2551,"y":4.42},{"k":6,"t":2557,"y":4.23},{"k":6,"t":2568,"y":4.07},{"k":6,"t":2585,"y":4.10},{"k":6,"t":2605,"y":4.05},{"k":6,"t":2630,"y":4.04},{"k":6,"t":2660,"y":4.05},{"k":6,"t":2690,"y":4.04},{"k":6,"t":2720,"y":4.05},{"k":6,"t":2750,"y":4.04},{"k":6,"t":2790,"y":4.05},{"k":6,"t":2830,"y":4.09},{"k":6,"t":2860,"y":4.04},{"k":6,"t":2883,"y":4.09},{"k":6,"t":2910,"y":4.04},{"k":6,"t":2937,"y":4.10},{"k":6,"t":2965,"y":4.04},{"k":6,"t":2997,"y":4.12},{"k":6,"t":3025,"y":4.04},{"k":6,"t":3055,"y":4.05},{"k":6,"t":3080,"y":4.04},{"k":6,"t":3108,"y":4.09},{"k":6,"t":3135,"y":4.04},{"k":6,"t":3165,"y":4.05},{"k":6,"t":3195,"y":4.04},{"k":6,"t":3226,"y":4.09},{"k":6,"t":3255,"y":4.04},{"k":6,"t":3285,"y":4.05},{"k":6,"t":3315,"y":4.04},{"k":6,"t":3344,"y":4.07},{"k":6,"t":3375,"y":4.04},{"k":6,"t":3410,"y":4.05},{"k":6,"t":3440,"y":4.04},{"k":6,"t":3470,"y":4.05},{"k":6,"t":3500,"y":4.04},{"k":6,"t":3530,"y":4.05},{"k":6,"t":3560,"y":4.04},{"k":6,"t":3590,"y":4.05},{"k":6,"t":3620,"y":4.04},{"k":6,"t":3650,"y":4.05},{"k":6,"t":3668,"y":4.09},{"k":6,"t":3680,"y":4.16},{"k":6,"t":3692,"y":4.09},{"k":6,"t":3710,"y":4.04},{"k":6,"t":3740,"y":4.05},{"k":6,"t":3770,"y":4.04},{"k":6,"t":3800,"y":4.05},{"k":6,"t":3830,"y":4.04},{"k":6,"t":3860,"y":4.05},{"k":6,"t":3890,"y":4.04},{"k":6,"t":3930,"y":4.05},{"k":6,"t":3965,"y":4.08},{"k":6,"t":3980,"y":4.04},{"k":6,"t":4000,"y":4.05},
{"k":5,"t":200,"y":3.40},{"k":5,"t":205,"y":3.20},{"k":5,"t":210,"y":3.40},{"k":5,"t":215,"y":3.20},{"k":5,"t":220,"y":3.40},{"k":5,"t":225,"y":3.20},{"k":5,"t":230,"y":3.40},{"k":5,"t":235,"y":3.20},{"k":5,"t":240,"y":3.40},{"k":5,"t":245,"y":3.20},{"k":5,"t":250,"y":3.40},{"k":5,"t":255,"y":3.20},{"k":5,"t":260,"y":3.40},{"k":5,"t":265,"y":3.20},{"k":5,"t":270,"y":3.39},{"k":5,"t":275,"y":3.20},{"k":5,"t":280,"y":3.39},{"k":5,"t":285,"y":3.20},{"k":5,"t":290,"y":3.39},{"k":5,"t":295,"y":3.20},{"k":5,"t":300,"y":3.39},{"k":5,"t":305,"y":3.20},{"k":5,"t":310,"y":3.39},{"k":5,"t":315,"y":3.20},{"k":5,"t":320,"y":3.39},{"k":5,"t":325,"y":3.20},{"k":5,"t":330,"y":3.39},{"k":5,"t":335,"y":3.20},{"k":5,"t":340,"y":3.38},{"k":5,"t":345,"y":3.20},{"k":5,"t":350,"y":3.38},{"k":5,"t":355,"y":3.20},{"k":5,"t":360,"y":3.38},{"k":5,"t":365,"y":3.21},{"k":5,"t":370,"y":3.37},{"k":5,"t":378,"y":3.26},{"k":5,"t":386,"y":3.60},{"k":5,"t":393,"y":3.89},{"k":5,"t":399,"y":3.60},{"k":5,"t":408,"y":3.32},{"k":5,"t":418,"y":3.26},{"k":5,"t":428,"y":3.30},{"k":5,"t":438,"y":3.25},{"k":5,"t":448,"y":3.29},{"k":5,"t":458,"y":3.25},{"k":5,"t":468,"y":3.28},{"k":5,"t":478,"y":3.25},{"k":5,"t":488,"y":3.27},{"k":5,"t":498,"y":3.55},{"k":5,"t":504,"y":3.77},{"k":5,"t":510,"y":3.52},{"k":5,"t":520,"y":3.30},{"k":5,"t":530,"y":3.25},{"k":5,"t":540,"y":3.30},{"k":5,"t":550,"y":3.26},{"k":5,"t":562,"y":3.34},{"k":5,"t":575,"y":3.27},{"k":5,"t":590,"y":3.26},{"k":5,"t":604,"y":3.32},{"k":5,"t":610,"y":3.55},{"k":5,"t":616,"y":3.76},{"k":5,"t":622,"y":3.53},{"k":5,"t":632,"y":3.30},{"k":5,"t":645,"y":3.27},{"k":5,"t":670,"y":3.25},{"k":5,"t":700,"y":3.26},{"k":5,"t":730,"y":3.25},{"k":5,"t":760,"y":3.27},{"k":5,"t":783,"y":3.36},{"k":5,"t":805,"y":3.25},{"k":5,"t":830,"y":3.24},{"k":5,"t":860,"y":3.25},{"k":5,"t":885,"y":3.27},{"k":5,"t":895,"y":3.52},{"k":5,"t":901,"y":3.75},{"k":5,"t":907,"y":3.50},{"k":5,"t":918,"y":3.28},{"k":5,"t":935,"y":3.27},{"k":5,"t":955,"y":3.33},{"k":5,"t":975,"y":3.27},{"k":5,"t":995,"y":3.32},{"k":5,"t":1005,"y":3.40},{"k":5,"t":1014,"y":3.49},{"k":5,"t":1024,"y":3.40},{"k":5,"t":1038,"y":3.28},{"k":5,"t":1060,"y":3.25},{"k":5,"t":1090,"y":3.24},{"k":5,"t":1110,"y":3.26},{"k":5,"t":1118,"y":3.30},{"k":5,"t":1124,"y":3.55},{"k":5,"t":1130,"y":3.84},{"k":5,"t":1136,"y":3.55},{"k":5,"t":1148,"y":3.29},{"k":5,"t":1165,"y":3.27},{"k":5,"t":1188,"y":3.29},{"k":5,"t":1210,"y":3.25},{"k":5,"t":1237,"y":3.34},{"k":5,"t":1260,"y":3.26},{"k":5,"t":1280,"y":3.30},{"k":5,"t":1297,"y":3.42},{"k":5,"t":1312,"y":3.30},{"k":5,"t":1330,"y":3.25},{"k":5,"t":1354,"y":3.28},{"k":5,"t":1380,"y":3.25},{"k":5,"t":1414,"y":3.34},{"k":5,"t":1440,"y":3.26},{"k":5,"t":1469,"y":3.34},{"k":5,"t":1490,"y":3.26},{"k":5,"t":1510,"y":3.30},{"k":5,"t":1521,"y":3.48},{"k":5,"t":1527,"y":3.70},{"k":5,"t":1533,"y":3.47},{"k":5,"t":1545,"y":3.28},{"k":5,"t":1565,"y":3.25},{"k":5,"t":1590,"y":3.26},{"k":5,"t":1615,"y":3.25},{"k":5,"t":1636,"y":3.34},{"k":5,"t":1660,"y":3.25},{"k":5,"t":1690,"y":3.26},{"k":5,"t":1720,"y":3.25},{"k":5,"t":1747,"y":3.34},{"k":5,"t":1775,"y":3.25},{"k":5,"t":1812,"y":3.35},{"k":5,"t":1840,"y":3.25},{"k":5,"t":1869,"y":3.32},{"k":5,"t":1895,"y":3.25},{"k":5,"t":1923,"y":3.31},{"k":5,"t":1950,"y":3.25},{"k":5,"t":1975,"y":3.26},{"k":5,"t":2000,"y":3.25},{"k":5,"t":2030,"y":3.34},{"k":5,"t":2055,"y":3.32},{"k":5,"t":2070,"y":3.36},{"k":5,"t":2090,"y":3.37},{"k":5,"t":2115,"y":3.26},{"k":5,"t":2148,"y":3.33},{"k":5,"t":2175,"y":3.25},{"k":5,"t":2208,"y":3.29},{"k":5,"t":2235,"y":3.25},{"k":5,"t":2262,"y":3.30},{"k":5,"t":2290,"y":3.25},{"k":5,"t":2319,"y":3.29},{"k":5,"t":2345,"y":3.25},{"k":5,"t":2375,"y":3.30},{"k":5,"t":2400,"y":3.25},{"k":5,"t":2433,"y":3.32},{"k":5,"t":2460,"y":3.25},{"k":5,"t":2487,"y":3.29},{"k":5,"t":2515,"y":3.25},{"k":5,"t":2546,"y":3.30},{"k":5,"t":2575,"y":3.25},{"k":5,"t":2598,"y":3.32},{"k":5,"t":2625,"y":3.25},{"k":5,"t":2658,"y":3.31},{"k":5,"t":2685,"y":3.25},{"k":5,"t":2712,"y":3.27},{"k":5,"t":2740,"y":3.24},{"k":5,"t":2770,"y":3.25},{"k":5,"t":2830,"y":3.27},{"k":5,"t":2860,"y":3.24},{"k":5,"t":2890,"y":3.25},{"k":5,"t":2940,"y":3.27},{"k":5,"t":2970,"y":3.25},{"k":5,"t":2997,"y":3.34},{"k":5,"t":3025,"y":3.25},{"k":5,"t":3055,"y":3.28},{"k":5,"t":3080,"y":3.24},{"k":5,"t":3110,"y":3.25},{"k":5,"t":3140,"y":3.24},{"k":5,"t":3168,"y":3.26},{"k":5,"t":3200,"y":3.25},{"k":5,"t":3226,"y":3.30},{"k":5,"t":3255,"y":3.24},{"k":5,"t":3285,"y":3.25},{"k":5,"t":3344,"y":3.27},{"k":5,"t":3375,"y":3.24},{"k":5,"t":3410,"y":3.25},{"k":5,"t":3450,"y":3.24},{"k":5,"t":3480,"y":3.25},{"k":5,"t":3510,"y":3.24},{"k":5,"t":3540,"y":3.25},{"k":5,"t":3569,"y":3.29},{"k":5,"t":3600,"y":3.24},{"k":5,"t":3640,"y":3.25},{"k":5,"t":3680,"y":3.24},{"k":5,"t":3710,"y":3.25},{"k":5,"t":3736,"y":3.30},{"k":5,"t":3760,"y":3.25},{"k":5,"t":3790,"y":3.34},{"k":5,"t":3815,"y":3.25},{"k":5,"t":3850,"y":3.24},{"k":5,"t":3880,"y":3.25},{"k":5,"t":3910,"y":3.24},{"k":5,"t":3940,"y":3.25},{"k":5,"t":3965,"y":3.29},{"k":5,"t":3985,"y":3.25},{"k":5,"t":4000,"y":3.25},
{"k":4,"t":200,"y":2.60},{"k":4,"t":205,"y":2.40},{"k":4,"t":210,"y":2.60},{"k":4,"t":215,"y":2.40},{"k":4,"t":220,"y":2.60},{"k":4,"t":225,"y":2.40},{"k":4,"t":230,"y":2.60},{"k":4,"t":235,"y":2.40},{"k":4,"t":240,"y":2.60},{"k":4,"t":245,"y":2.40},{"k":4,"t":250,"y":2.60},{"k":4,"t":255,"y":2.40},{"k":4,"t":260,"y":2.60},{"k":4,"t":265,"y":2.40},{"k":4,"t":270,"y":2.59},{"k":4,"t":275,"y":2.40},{"k":4,"t":280,"y":2.59},{"k":4,"t":285,"y":2.40},{"k":4,"t":290,"y":2.59},{"k":4,"t":295,"y":2.40},{"k":4,"t":300,"y":2.59},{"k":4,"t":305,"y":2.40},{"k":4,"t":310,"y":2.59},{"k":4,"t":315,"y":2.40},{"k":4,"t":320,"y":2.59},{"k":4,"t":325,"y":2.40},{"k":4,"t":330,"y":2.59},{"k":4,"t":335,"y":2.40},{"k":4,"t":340,"y":2.58},{"k":4,"t":345,"y":2.40},{"k":4,"t":350,"y":2.58},{"k":4,"t":355,"y":2.40},{"k":4,"t":360,"y":2.58},{"k":4,"t":365,"y":2.41},{"k":4,"t":370,"y":2.57},{"k":4,"t":378,"y":2.46},{"k":4,"t":386,"y":2.80},{"k":4,"t":393,"y":3.10},{"k":4,"t":399,"y":2.80},{"k":4,"t":408,"y":2.52},{"k":4,"t":418,"y":2.48},{"k":4,"t":428,"y":2.53},{"k":4,"t":438,"y":2.45},{"k":4,"t":448,"y":2.52},{"k":4,"t":458,"y":2.45},{"k":4,"t":468,"y":2.51},{"k":4,"t":478,"y":2.45},{"k":4,"t":488,"y":2.48},{"k":4,"t":498,"y":2.75},{"k":4,"t":504,"y":3.13},{"k":4,"t":510,"y":2.75},{"k":4,"t":520,"y":2.50},{"k":4,"t":530,"y":2.46},{"k":4,"t":540,"y":2.55},{"k":4,"t":550,"y":2.47},{"k":4,"t":562,"y":2.56},{"k":4,"t":575,"y":2.46},{"k":4,"t":585,"y":2.50},{"k":4,"t":595,"y":2.44},{"k":4,"t":605,"y":2.50},{"k":4,"t":615,"y":2.44},{"k":4,"t":625,"y":2.50},{"k":4,"t":635,"y":2.44},{"k":4,"t":645,"y":2.49},{"k":4,"t":655,"y":2.44},{"k":4,"t":665,"y":2.49},{"k":4,"t":675,"y":2.44},{"k":4,"t":685,"y":2.49},{"k":4,"t":695,"y":2.44},{"k":4,"t":705,"y":2.48},{"k":4,"t":715,"y":2.44},{"k":4,"t":725,"y":2.48},{"k":4,"t":735,"y":2.44},{"k":4,"t":745,"y":2.47},{"k":4,"t":755,"y":2.44},{"k":4,"t":768,"y":2.48},{"k":4,"t":783,"y":2.56},{"k":4,"t":798,"y":2.47},{"k":4,"t":815,"y":2.44},{"k":4,"t":840,"y":2.45},{"k":4,"t":865,"y":2.44},{"k":4,"t":885,"y":2.48},{"k":4,"t":895,"y":2.72},{"k":4,"t":901,"y":2.95},{"k":4,"t":907,"y":2.70},{"k":4,"t":918,"y":2.48},{"k":4,"t":935,"y":2.47},{"k":4,"t":955,"y":2.53},{"k":4,"t":975,"y":2.46},{"k":4,"t":995,"y":2.50},{"k":4,"t":1014,"y":2.58},{"k":4,"t":1030,"y":2.48},{"k":4,"t":1050,"y":2.44},{"k":4,"t":1080,"y":2.45},{"k":4,"t":1110,"y":2.44},{"k":4,"t":1140,"y":2.45},{"k":4,"t":1170,"y":2.47},{"k":4,"t":1186,"y":2.50},{"k":4,"t":1205,"y":2.45},{"k":4,"t":1237,"y":2.51},{"k":4,"t":1260,"y":2.45},{"k":4,"t":1280,"y":2.50},{"k":4,"t":1297,"y":2.62},{"k":4,"t":1312,"y":2.50},{"k":4,"t":1330,"y":2.47},{"k":4,"t":1344,"y":2.52},{"k":4,"t":1349,"y":2.75},{"k":4,"t":1354,"y":3.02},{"k":4,"t":1360,"y":2.73},{"k":4,"t":1372,"y":2.49},{"k":4,"t":1390,"y":2.47},{"k":4,"t":1414,"y":2.56},{"k":4,"t":1440,"y":2.46},{"k":4,"t":1469,"y":2.56},{"k":4,"t":1490,"y":2.46},{"k":4,"t":1520,"y":2.44},{"k":4,"t":1550,"y":2.45},{"k":4,"t":1580,"y":2.44},{"k":4,"t":1610,"y":2.45},{"k":4,"t":1640,"y":2.44},{"k":4,"t":1670,"y":2.45},{"k":4,"t":1700,"y":2.46},{"k":4,"t":1725,"y":2.50},{"k":4,"t":1747,"y":2.60},{"k":4,"t":1765,"y":2.50},{"k":4,"t":1790,"y":2.48},{"k":4,"t":1812,"y":2.54},{"k":4,"t":1830,"y":2.48},{"k":4,"t":1850,"y":2.55},{"k":4,"t":1863,"y":2.68},{"k":4,"t":1869,"y":2.87},{"k":4,"t":1875,"y":2.66},{"k":4,"t":1886,"y":2.48},{"k":4,"t":1900,"y":2.46},{"k":4,"t":1923,"y":2.47},{"k":4,"t":1950,"y":2.44},{"k":4,"t":1978,"y":2.46},{"k":4,"t":2000,"y":2.44},{"k":4,"t":2030,"y":2.45},{"k":4,"t":2060,"y":2.44},{"k":4,"t":2079,"y":2.47},{"k":4,"t":2100,"y":2.44},{"k":4,"t":2125,"y":2.46},{"k":4,"t":2148,"y":2.52},{"k":4,"t":2170,"y":2.45},{"k":4,"t":2190,"y":2.47},{"k":4,"t":2210,"y":2.51},{"k":4,"t":2230,"y":2.45},{"k":4,"t":2250,"y":2.49},{"k":4,"t":2261,"y":2.66},{"k":4,"t":2266,"y":2.86},{"k":4,"t":2272,"y":2.64},{"k":4,"t":2283,"y":2.47},{"k":4,"t":2300,"y":2.49},{"k":4,"t":2315,"y":2.46},{"k":4,"t":2340,"y":2.47},{"k":4,"t":2360,"y":2.45},{"k":4,"t":2375,"y":2.53},{"k":4,"t":2392,"y":2.46},{"k":4,"t":2420,"y":2.44},{"k":4,"t":2450,"y":2.45},{"k":4,"t":2480,"y":2.44},{"k":4,"t":2510,"y":2.45},{"k":4,"t":2540,"y":2.44},{"k":4,"t":2570,"y":2.45},{"k":4,"t":2600,"y":2.44},{"k":4,"t":2630,"y":2.45},{"k":4,"t":2645,"y":2.50},{"k":4,"t":2658,"y":2.58},{"k":4,"t":2672,"y":2.49},{"k":4,"t":2690,"y":2.45},{"k":4,"t":2712,"y":2.48},{"k":4,"t":2740,"y":2.45},{"k":4,"t":2776,"y":2.53},{"k":4,"t":2800,"y":2.46},{"k":4,"t":2830,"y":2.50},{"k":4,"t":2860,"y":2.45},{"k":4,"t":2894,"y":2.47},{"k":4,"t":2920,"y":2.44},{"k":4,"t":2950,"y":2.45},{"k":4,"t":2980,"y":2.44},{"k":4,"t":3010,"y":2.45},{"k":4,"t":3040,"y":2.44},{"k":4,"t":3070,"y":2.45},{"k":4,"t":3108,"y":2.47},{"k":4,"t":3135,"y":2.45},{"k":4,"t":3168,"y":2.53},{"k":4,"t":3195,"y":2.46},{"k":4,"t":3226,"y":2.55},{"k":4,"t":3250,"y":2.46},{"k":4,"t":3285,"y":2.47},{"k":4,"t":3310,"y":2.44},{"k":4,"t":3340,"y":2.45},{"k":4,"t":3370,"y":2.44},{"k":4,"t":3451,"y":2.45},{"k":4,"t":3480,"y":2.44},{"k":4,"t":3510,"y":2.45},{"k":4,"t":3555,"y":2.46},{"k":4,"t":3580,"y":2.44},{"k":4,"t":3622,"y":2.45},{"k":4,"t":3650,"y":2.44},{"k":4,"t":3700,"y":2.45},{"k":4,"t":3736,"y":2.52},{"k":4,"t":3760,"y":2.45},{"k":4,"t":3790,"y":2.44},{"k":4,"t":3820,"y":2.45},{"k":4,"t":3850,"y":2.44},{"k":4,"t":3880,"y":2.45},{"k":4,"t":3910,"y":2.44},{"k":4,"t":3940,"y":2.45},{"k":4,"t":3961,"y":2.50},{"k":4,"t":3980,"y":2.45},{"k":4,"t":4000,"y":2.44},
{"k":3,"t":200,"y":1.80},{"k":3,"t":205,"y":1.60},{"k":3,"t":210,"y":1.80},{"k":3,"t":215,"y":1.60},{"k":3,"t":220,"y":1.80},{"k":3,"t":225,"y":1.60},{"k":3,"t":230,"y":1.80},{"k":3,"t":235,"y":1.60},{"k":3,"t":240,"y":1.80},{"k":3,"t":245,"y":1.60},{"k":3,"t":250,"y":1.80},{"k":3,"t":255,"y":1.60},{"k":3,"t":260,"y":1.80},{"k":3,"t":265,"y":1.60},{"k":3,"t":270,"y":1.79},{"k":3,"t":275,"y":1.60},{"k":3,"t":280,"y":1.79},{"k":3,"t":285,"y":1.60},{"k":3,"t":290,"y":1.79},{"k":3,"t":295,"y":1.60},{"k":3,"t":300,"y":1.79},{"k":3,"t":305,"y":1.60},{"k":3,"t":310,"y":1.79},{"k":3,"t":315,"y":1.60},{"k":3,"t":320,"y":1.79},{"k":3,"t":325,"y":1.60},{"k":3,"t":330,"y":1.79},{"k":3,"t":335,"y":1.60},{"k":3,"t":340,"y":1.78},{"k":3,"t":345,"y":1.60},{"k":3,"t":350,"y":1.78},{"k":3,"t":355,"y":1.60},{"k":3,"t":360,"y":1.78},{"k":3,"t":365,"y":1.61},{"k":3,"t":370,"y":1.77},{"k":3,"t":378,"y":1.66},{"k":3,"t":386,"y":2.00},{"k":3,"t":393,"y":2.29},{"k":3,"t":399,"y":2.00},{"k":3,"t":408,"y":1.72},{"k":3,"t":418,"y":1.68},{"k":3,"t":428,"y":1.73},{"k":3,"t":438,"y":1.65},{"k":3,"t":448,"y":1.72},{"k":3,"t":458,"y":1.65},{"k":3,"t":468,"y":1.71},{"k":3,"t":478,"y":1.65},{"k":3,"t":488,"y":1.68},{"k":3,"t":498,"y":1.95},{"k":3,"t":504,"y":2.33},{"k":3,"t":510,"y":1.95},{"k":3,"t":520,"y":1.70},{"k":3,"t":530,"y":1.66},{"k":3,"t":540,"y":1.75},{"k":3,"t":550,"y":1.67},{"k":3,"t":562,"y":1.76},{"k":3,"t":575,"y":1.66},{"k":3,"t":585,"y":1.70},{"k":3,"t":595,"y":1.64},{"k":3,"t":605,"y":1.70},{"k":3,"t":615,"y":1.64},{"k":3,"t":625,"y":1.70},{"k":3,"t":635,"y":1.64},{"k":3,"t":645,"y":1.69},{"k":3,"t":655,"y":1.64},{"k":3,"t":665,"y":1.69},{"k":3,"t":675,"y":1.64},{"k":3,"t":685,"y":1.69},{"k":3,"t":695,"y":1.64},{"k":3,"t":705,"y":1.68},{"k":3,"t":715,"y":1.64},{"k":3,"t":725,"y":1.68},{"k":3,"t":735,"y":1.64},{"k":3,"t":745,"y":1.67},{"k":3,"t":755,"y":1.64},{"k":3,"t":768,"y":1.68},{"k":3,"t":783,"y":1.77},{"k":3,"t":798,"y":1.67},{"k":3,"t":815,"y":1.64},{"k":3,"t":840,"y":1.65},{"k":3,"t":865,"y":1.64},{"k":3,"t":885,"y":1.68},{"k":3,"t":895,"y":1.92},{"k":3,"t":901,"y":2.15},{"k":3,"t":907,"y":1.90},{"k":3,"t":918,"y":1.68},{"k":3,"t":935,"y":1.67},{"k":3,"t":955,"y":1.73},{"k":3,"t":975,"y":1.66},{"k":3,"t":995,"y":1.70},{"k":3,"t":1014,"y":1.79},{"k":3,"t":1030,"y":1.68},{"k":3,"t":1050,"y":1.64},{"k":3,"t":1080,"y":1.65},{"k":3,"t":1110,"y":1.64},{"k":3,"t":1140,"y":1.65},{"k":3,"t":1170,"y":1.66},{"k":3,"t":1186,"y":1.69},{"k":3,"t":1205,"y":1.65},{"k":3,"t":1237,"y":1.70},{"k":3,"t":1260,"y":1.65},{"k":3,"t":1280,"y":1.70},{"k":3,"t":1297,"y":1.82},{"k":3,"t":1312,"y":1.70},{"k":3,"t":1330,"y":1.66},{"k":3,"t":1354,"y":1.68},{"k":3,"t":1380,"y":1.65},{"k":3,"t":1414,"y":1.76},{"k":3,"t":1440,"y":1.66},{"k":3,"t":1469,"y":1.73},{"k":3,"t":1490,"y":1.65},{"k":3,"t":1520,"y":1.64},{"k":3,"t":1550,"y":1.65},{"k":3,"t":1580,"y":1.64},{"k":3,"t":1610,"y":1.65},{"k":3,"t":1640,"y":1.64},{"k":3,"t":1670,"y":1.65},{"k":3,"t":1700,"y":1.65},{"k":3,"t":1725,"y":1.67},{"k":3,"t":1747,"y":1.73},{"k":3,"t":1770,"y":1.66},{"k":3,"t":1790,"y":1.68},{"k":3,"t":1812,"y":1.77},{"k":3,"t":1830,"y":1.67},{"k":3,"t":1850,"y":1.66},{"k":3,"t":1869,"y":1.72},{"k":3,"t":1890,"y":1.65},{"k":3,"t":1920,"y":1.64},{"k":3,"t":1950,"y":1.65},{"k":3,"t":1980,"y":1.64},{"k":3,"t":2010,"y":1.65},{"k":3,"t":2040,"y":1.64},{"k":3,"t":2070,"y":1.65},{"k":3,"t":2100,"y":1.64},{"k":3,"t":2125,"y":1.66},{"k":3,"t":2148,"y":1.75},{"k":3,"t":2165,"y":1.66},{"k":3,"t":2180,"y":1.61},{"k":3,"t":2190,"y":1.64},{"k":3,"t":2198,"y":1.88},{"k":3,"t":2204,"y":2.24},{"k":3,"t":2210,"y":1.88},{"k":3,"t":2220,"y":1.68},{"k":3,"t":2240,"y":1.70},{"k":3,"t":2262,"y":1.65},{"k":3,"t":2290,"y":1.64},{"k":3,"t":2320,"y":1.66},{"k":3,"t":2350,"y":1.64},{"k":3,"t":2380,"y":1.65},{"k":3,"t":2410,"y":1.64},{"k":3,"t":2440,"y":1.65},{"k":3,"t":2470,"y":1.64},{"k":3,"t":2500,"y":1.65},{"k":3,"t":2530,"y":1.64},{"k":3,"t":2560,"y":1.65},{"k":3,"t":2590,"y":1.66},{"k":3,"t":2604,"y":1.72},{"k":3,"t":2625,"y":1.65},{"k":3,"t":2658,"y":1.68},{"k":3,"t":2690,"y":1.67},{"k":3,"t":2705,"y":1.72},{"k":3,"t":2711,"y":1.90},{"k":3,"t":2716,"y":2.10},{"k":3,"t":2722,"y":1.88},{"k":3,"t":2734,"y":1.67},{"k":3,"t":2760,"y":1.65},{"k":3,"t":2790,"y":1.64},{"k":3,"t":2820,"y":1.65},{"k":3,"t":2850,"y":1.64},{"k":3,"t":2880,"y":1.65},{"k":3,"t":2910,"y":1.64},{"k":3,"t":2940,"y":1.65},{"k":3,"t":2970,"y":1.64},{"k":3,"t":3000,"y":1.65},{"k":3,"t":3030,"y":1.64},{"k":3,"t":3055,"y":1.70},{"k":3,"t":3075,"y":1.65},{"k":3,"t":3098,"y":1.70},{"k":3,"t":3108,"y":1.86},{"k":3,"t":3114,"y":2.05},{"k":3,"t":3120,"y":1.84},{"k":3,"t":3132,"y":1.68},{"k":3,"t":3150,"y":1.66},{"k":3,"t":3175,"y":1.65},{"k":3,"t":3200,"y":1.67},{"k":3,"t":3214,"y":1.76},{"k":3,"t":3226,"y":1.82},{"k":3,"t":3238,"y":1.74},{"k":3,"t":3252,"y":1.66},{"k":3,"t":3280,"y":1.64},{"k":3,"t":3310,"y":1.65},{"k":3,"t":3340,"y":1.64},{"k":3,"t":3370,"y":1.65},{"k":3,"t":3400,"y":1.64},{"k":3,"t":3430,"y":1.65},{"k":3,"t":3460,"y":1.64},{"k":3,"t":3490,"y":1.66},{"k":3,"t":3511,"y":1.72},{"k":3,"t":3535,"y":1.65},{"k":3,"t":3560,"y":1.66},{"k":3,"t":3585,"y":1.64},{"k":3,"t":3605,"y":1.68},{"k":3,"t":3622,"y":1.75},{"k":3,"t":3640,"y":1.68},{"k":3,"t":3660,"y":1.73},{"k":3,"t":3680,"y":1.66},{"k":3,"t":3710,"y":1.64},{"k":3,"t":3740,"y":1.65},{"k":3,"t":3770,"y":1.64},{"k":3,"t":3800,"y":1.65},{"k":3,"t":3830,"y":1.64},{"k":3,"t":3860,"y":1.65},{"k":3,"t":3890,"y":1.64},{"k":3,"t":3920,"y":1.65},{"k":3,"t":3950,"y":1.64},{"k":3,"t":3975,"y":1.67},{"k":3,"t":4000,"y":1.65},
{"k":2,"t":200,"y":0.99},{"k":2,"t":205,"y":0.79},{"k":2,"t":210,"y":0.99},{"k":2,"t":215,"y":0.79},{"k":2,"t":220,"y":0.99},{"k":2,"t":225,"y":0.79},{"k":2,"t":230,"y":0.99},{"k":2,"t":235,"y":0.79},{"k":2,"t":240,"y":0.99},{"k":2,"t":245,"y":0.79},{"k":2,"t":250,"y":0.99},{"k":2,"t":255,"y":0.79},{"k":2,"t":260,"y":0.98},{"k":2,"t":265,"y":0.79},{"k":2,"t":270,"y":0.98},{"k":2,"t":275,"y":0.79},{"k":2,"t":280,"y":0.98},{"k":2,"t":285,"y":0.79},{"k":2,"t":290,"y":0.98},{"k":2,"t":295,"y":0.79},{"k":2,"t":300,"y":0.98},{"k":2,"t":305,"y":0.79},{"k":2,"t":310,"y":0.97},{"k":2,"t":315,"y":0.80},{"k":2,"t":320,"y":0.97},{"k":2,"t":325,"y":0.80},{"k":2,"t":330,"y":0.96},{"k":2,"t":335,"y":0.81},{"k":2,"t":340,"y":0.93},{"k":2,"t":345,"y":0.81},{"k":2,"t":350,"y":0.93},{"k":2,"t":355,"y":0.81},{"k":2,"t":360,"y":0.93},{"k":2,"t":365,"y":0.81},{"k":2,"t":370,"y":0.93},{"k":2,"t":375,"y":0.81},{"k":2,"t":380,"y":0.93},{"k":2,"t":385,"y":0.81},{"k":2,"t":390,"y":0.92},{"k":2,"t":395,"y":0.81},{"k":2,"t":400,"y":0.92},{"k":2,"t":405,"y":0.81},{"k":2,"t":410,"y":0.92},{"k":2,"t":415,"y":0.81},{"k":2,"t":420,"y":0.92},{"k":2,"t":425,"y":0.81},{"k":2,"t":430,"y":0.92},{"k":2,"t":435,"y":0.81},{"k":2,"t":440,"y":0.91},{"k":2,"t":445,"y":0.81},{"k":2,"t":450,"y":0.91},{"k":2,"t":455,"y":0.81},{"k":2,"t":460,"y":0.91},{"k":2,"t":465,"y":0.82},{"k":2,"t":470,"y":0.90},{"k":2,"t":475,"y":0.82},{"k":2,"t":480,"y":0.90},{"k":2,"t":490,"y":0.86},{"k":2,"t":498,"y":1.20},{"k":2,"t":504,"y":1.55},{"k":2,"t":510,"y":1.15},{"k":2,"t":520,"y":0.90},{"k":2,"t":530,"y":0.86},{"k":2,"t":540,"y":0.93},{"k":2,"t":550,"y":0.86},{"k":2,"t":562,"y":0.95},{"k":2,"t":575,"y":0.86},{"k":2,"t":595,"y":0.85},{"k":2,"t":606,"y":0.88},{"k":2,"t":612,"y":1.20},{"k":2,"t":618,"y":1.53},{"k":2,"t":624,"y":1.18},{"k":2,"t":634,"y":0.90},{"k":2,"t":650,"y":0.86},{"k":2,"t":670,"y":0.85},{"k":2,"t":690,"y":0.84},{"k":2,"t":710,"y":0.86},{"k":2,"t":719,"y":0.90},{"k":2,"t":725,"y":1.18},{"k":2,"t":731,"y":1.50},{"k":2,"t":737,"y":1.16},{"k":2,"t":748,"y":0.89},{"k":2,"t":765,"y":0.87},{"k":2,"t":783,"y":0.91},{"k":2,"t":805,"y":0.84},{"k":2,"t":830,"y":0.85},{"k":2,"t":860,"y":0.84},{"k":2,"t":890,"y":0.85},{"k":2,"t":920,"y":0.84},{"k":2,"t":950,"y":0.85},{"k":2,"t":980,"y":0.86},{"k":2,"t":995,"y":0.90},{"k":2,"t":1014,"y":0.97},{"k":2,"t":1030,"y":0.88},{"k":2,"t":1050,"y":0.84},{"k":2,"t":1080,"y":0.85},{"k":2,"t":1110,"y":0.84},{"k":2,"t":1118,"y":0.88},{"k":2,"t":1124,"y":1.15},{"k":2,"t":1130,"y":1.44},{"k":2,"t":1136,"y":1.15},{"k":2,"t":1148,"y":0.88},{"k":2,"t":1165,"y":0.86},{"k":2,"t":1190,"y":0.85},{"k":2,"t":1215,"y":0.87},{"k":2,"t":1237,"y":1.04},{"k":2,"t":1255,"y":0.88},{"k":2,"t":1275,"y":0.87},{"k":2,"t":1297,"y":0.93},{"k":2,"t":1315,"y":0.86},{"k":2,"t":1335,"y":0.88},{"k":2,"t":1344,"y":0.95},{"k":2,"t":1349,"y":1.10},{"k":2,"t":1354,"y":1.36},{"k":2,"t":1360,"y":1.08},{"k":2,"t":1372,"y":0.88},{"k":2,"t":1390,"y":0.85},{"k":2,"t":1420,"y":0.84},{"k":2,"t":1440,"y":0.86},{"k":2,"t":1455,"y":0.93},{"k":2,"t":1475,"y":0.86},{"k":2,"t":1500,"y":0.84},{"k":2,"t":1530,"y":0.85},{"k":2,"t":1560,"y":0.84},{"k":2,"t":1590,"y":0.85},{"k":2,"t":1615,"y":0.86},{"k":2,"t":1636,"y":0.97},{"k":2,"t":1655,"y":0.86},{"k":2,"t":1687,"y":0.89},{"k":2,"t":1710,"y":0.85},{"k":2,"t":1730,"y":0.87},{"k":2,"t":1747,"y":0.94},{"k":2,"t":1765,"y":0.86},{"k":2,"t":1790,"y":0.85},{"k":2,"t":1812,"y":0.89},{"k":2,"t":1835,"y":0.85},{"k":2,"t":1855,"y":0.88},{"k":2,"t":1863,"y":1.03},{"k":2,"t":1869,"y":1.21},{"k":2,"t":1875,"y":1.02},{"k":2,"t":1886,"y":0.87},{"k":2,"t":1900,"y":0.86},{"k":2,"t":1923,"y":0.89},{"k":2,"t":1950,"y":0.85},{"k":2,"t":1978,"y":0.92},{"k":2,"t":2000,"y":0.85},{"k":2,"t":2030,"y":0.84},{"k":2,"t":2060,"y":0.86},{"k":2,"t":2079,"y":0.94},{"k":2,"t":2095,"y":0.94},{"k":2,"t":2120,"y":0.85},{"k":2,"t":2148,"y":0.90},{"k":2,"t":2175,"y":0.85},{"k":2,"t":2208,"y":0.91},{"k":2,"t":2235,"y":0.85},{"k":2,"t":2262,"y":0.92},{"k":2,"t":2290,"y":0.85},{"k":2,"t":2320,"y":0.86},{"k":2,"t":2345,"y":0.85},{"k":2,"t":2375,"y":0.91},{"k":2,"t":2405,"y":0.85},{"k":2,"t":2433,"y":1.00},{"k":2,"t":2460,"y":0.86},{"k":2,"t":2487,"y":1.04},{"k":2,"t":2505,"y":0.88},{"k":2,"t":2525,"y":0.85},{"k":2,"t":2550,"y":0.86},{"k":2,"t":2580,"y":0.85},{"k":2,"t":2604,"y":0.89},{"k":2,"t":2630,"y":0.85},{"k":2,"t":2660,"y":0.84},{"k":2,"t":2690,"y":0.85},{"k":2,"t":2716,"y":0.90},{"k":2,"t":2745,"y":0.85},{"k":2,"t":2776,"y":0.86},{"k":2,"t":2830,"y":0.90},{"k":2,"t":2860,"y":0.85},{"k":2,"t":2883,"y":0.91},{"k":2,"t":2910,"y":0.85},{"k":2,"t":2940,"y":0.86},{"k":2,"t":2970,"y":0.85},{"k":2,"t":2997,"y":0.92},{"k":2,"t":3025,"y":0.85},{"k":2,"t":3055,"y":0.92},{"k":2,"t":3080,"y":0.85},{"k":2,"t":3108,"y":0.93},{"k":2,"t":3135,"y":0.85},{"k":2,"t":3168,"y":0.93},{"k":2,"t":3195,"y":0.85},{"k":2,"t":3226,"y":0.93},{"k":2,"t":3255,"y":0.85},{"k":2,"t":3285,"y":0.84},{"k":2,"t":3315,"y":0.85},{"k":2,"t":3344,"y":0.90},{"k":2,"t":3375,"y":0.84},{"k":2,"t":3410,"y":0.85},{"k":2,"t":3440,"y":0.84},{"k":2,"t":3470,"y":0.85},{"k":2,"t":3500,"y":0.84},{"k":2,"t":3530,"y":0.85},{"k":2,"t":3560,"y":0.84},{"k":2,"t":3600,"y":0.86},{"k":2,"t":3622,"y":0.89},{"k":2,"t":3650,"y":0.85},{"k":2,"t":3680,"y":0.84},{"k":2,"t":3710,"y":0.85},{"k":2,"t":3736,"y":0.94},{"k":2,"t":3760,"y":0.85},{"k":2,"t":3790,"y":0.91},{"k":2,"t":3815,"y":0.85},{"k":2,"t":3850,"y":0.84},{"k":2,"t":3880,"y":0.85},{"k":2,"t":3910,"y":0.84},{"k":2,"t":3940,"y":0.85},{"k":2,"t":3961,"y":0.92},{"k":2,"t":3980,"y":0.86},{"k":2,"t":4000,"y":0.88},
{"k":1,"t":200,"y":0.10},{"k":1,"t":208,"y":-0.02},{"k":1,"t":215,"y":0.12},{"k":1,"t":222,"y":0.00},{"k":1,"t":230,"y":0.11},{"k":1,"t":238,"y":-0.03},{"k":1,"t":245,"y":0.09},{"k":1,"t":252,"y":0.02},{"k":1,"t":258,"y":0.08},{"k":1,"t":265,"y":0.06},{"k":1,"t":272,"y":0.35},{"k":1,"t":279,"y":0.62},{"k":1,"t":286,"y":0.33},{"k":1,"t":296,"y":0.10},{"k":1,"t":305,"y":0.06},{"k":1,"t":315,"y":0.12},{"k":1,"t":325,"y":0.04},{"k":1,"t":335,"y":0.10},{"k":1,"t":345,"y":0.02},{"k":1,"t":355,"y":0.09},{"k":1,"t":365,"y":0.03},{"k":1,"t":375,"y":0.08},{"k":1,"t":385,"y":0.05},{"k":1,"t":395,"y":0.08},{"k":1,"t":405,"y":0.05},{"k":1,"t":415,"y":0.07},{"k":1,"t":425,"y":0.05},{"k":1,"t":435,"y":0.07},{"k":1,"t":445,"y":0.05},{"k":1,"t":455,"y":0.07},{"k":1,"t":465,"y":0.05},{"k":1,"t":475,"y":0.07},{"k":1,"t":490,"y":0.05},{"k":1,"t":505,"y":0.08},{"k":1,"t":520,"y":0.04},{"k":1,"t":535,"y":0.09},{"k":1,"t":550,"y":0.05},{"k":1,"t":562,"y":0.23},{"k":1,"t":574,"y":0.06},{"k":1,"t":590,"y":0.08},{"k":1,"t":604,"y":0.10},{"k":1,"t":610,"y":0.35},{"k":1,"t":616,"y":0.57},{"k":1,"t":622,"y":0.33},{"k":1,"t":634,"y":0.08},{"k":1,"t":650,"y":0.05},{"k":1,"t":665,"y":0.07},{"k":1,"t":680,"y":0.04},{"k":1,"t":700,"y":0.06},{"k":1,"t":720,"y":0.04},{"k":1,"t":740,"y":0.05},{"k":1,"t":760,"y":0.07},{"k":1,"t":783,"y":0.08},{"k":1,"t":800,"y":0.04},{"k":1,"t":820,"y":0.06},{"k":1,"t":840,"y":0.04},{"k":1,"t":860,"y":0.07},{"k":1,"t":880,"y":0.05},{"k":1,"t":890,"y":0.10},{"k":1,"t":895,"y":0.28},{"k":1,"t":901,"y":0.46},{"k":1,"t":907,"y":0.27},{"k":1,"t":918,"y":0.08},{"k":1,"t":935,"y":0.05},{"k":1,"t":955,"y":0.06},{"k":1,"t":975,"y":0.04},{"k":1,"t":995,"y":0.07},{"k":1,"t":1015,"y":0.04},{"k":1,"t":1040,"y":0.06},{"k":1,"t":1061,"y":0.12},{"k":1,"t":1080,"y":0.05},{"k":1,"t":1100,"y":0.06},{"k":1,"t":1120,"y":0.04},{"k":1,"t":1140,"y":0.06},{"k":1,"t":1160,"y":0.05},{"k":1,"t":1175,"y":0.10},{"k":1,"t":1180,"y":0.40},{"k":1,"t":1184,"y":0.52},{"k":1,"t":1188,"y":0.40},{"k":1,"t":1192,"y":0.50},{"k":1,"t":1198,"y":0.25},{"k":1,"t":1208,"y":0.08},{"k":1,"t":1225,"y":0.10},{"k":1,"t":1240,"y":0.05},{"k":1,"t":1260,"y":0.06},{"k":1,"t":1280,"y":0.04},{"k":1,"t":1300,"y":0.06},{"k":1,"t":1320,"y":0.04},{"k":1,"t":1340,"y":0.06},{"k":1,"t":1360,"y":0.04},{"k":1,"t":1380,"y":0.06},{"k":1,"t":1400,"y":0.04},{"k":1,"t":1420,"y":0.06},{"k":1,"t":1440,"y":0.05},{"k":1,"t":1455,"y":0.08},{"k":1,"t":1469,"y":0.14},{"k":1,"t":1482,"y":0.09},{"k":1,"t":1500,"y":0.10},{"k":1,"t":1512,"y":0.15},{"k":1,"t":1521,"y":0.28},{"k":1,"t":1527,"y":0.40},{"k":1,"t":1533,"y":0.27},{"k":1,"t":1545,"y":0.07},{"k":1,"t":1565,"y":0.04},{"k":1,"t":1590,"y":0.06},{"k":1,"t":1615,"y":0.04},{"k":1,"t":1640,"y":0.08},{"k":1,"t":1660,"y":0.04},{"k":1,"t":1680,"y":0.08},{"k":1,"t":1700,"y":0.04},{"k":1,"t":1720,"y":0.05},{"k":1,"t":1740,"y":0.04},{"k":1,"t":1760,"y":0.06},{"k":1,"t":1790,"y":0.08},{"k":1,"t":1800,"y":0.18},{"k":1,"t":1812,"y":0.29},{"k":1,"t":1822,"y":0.16},{"k":1,"t":1835,"y":0.06},{"k":1,"t":1860,"y":0.04},{"k":1,"t":1890,"y":0.05},{"k":1,"t":1920,"y":0.04},{"k":1,"t":1950,"y":0.06},{"k":1,"t":1980,"y":0.04},{"k":1,"t":2010,"y":0.05},{"k":1,"t":2040,"y":0.04},{"k":1,"t":2060,"y":0.08},{"k":1,"t":2075,"y":0.23},{"k":1,"t":2085,"y":0.12},{"k":1,"t":2095,"y":0.25},{"k":1,"t":2110,"y":0.08},{"k":1,"t":2130,"y":0.07},{"k":1,"t":2148,"y":0.15},{"k":1,"t":2165,"y":0.05},{"k":1,"t":2190,"y":0.04},{"k":1,"t":2220,"y":0.05},{"k":1,"t":2250,"y":0.04},{"k":1,"t":2280,"y":0.05},{"k":1,"t":2310,"y":0.04},{"k":1,"t":2340,"y":0.05},{"k":1,"t":2370,"y":0.04},{"k":1,"t":2400,"y":0.06},{"k":1,"t":2420,"y":0.12},{"k":1,"t":2433,"y":0.21},{"k":1,"t":2445,"y":0.10},{"k":1,"t":2455,"y":0.14},{"k":1,"t":2468,"y":0.05},{"k":1,"t":2490,"y":0.04},{"k":1,"t":2520,"y":0.05},{"k":1,"t":2550,"y":0.04},{"k":1,"t":2580,"y":0.05},{"k":1,"t":2610,"y":0.04},{"k":1,"t":2640,"y":0.05},{"k":1,"t":2670,"y":0.04},{"k":1,"t":2700,"y":0.05},{"k":1,"t":2722,"y":0.10},{"k":1,"t":2745,"y":0.04},{"k":1,"t":2770,"y":0.05},{"k":1,"t":2800,"y":0.04},{"k":1,"t":2830,"y":0.05},{"k":1,"t":2860,"y":0.04},{"k":1,"t":2890,"y":0.05},{"k":1,"t":2920,"y":0.04},{"k":1,"t":2950,"y":0.05},{"k":1,"t":2980,"y":0.04},{"k":1,"t":3001,"y":0.08},{"k":1,"t":3020,"y":0.04},{"k":1,"t":3050,"y":0.05},{"k":1,"t":3080,"y":0.04},{"k":1,"t":3110,"y":0.05},{"k":1,"t":3140,"y":0.04},{"k":1,"t":3170,"y":0.05},{"k":1,"t":3200,"y":0.04},{"k":1,"t":3230,"y":0.05},{"k":1,"t":3260,"y":0.04},{"k":1,"t":3290,"y":0.05},{"k":1,"t":3320,"y":0.04},{"k":1,"t":3344,"y":0.09},{"k":1,"t":3365,"y":0.04},{"k":1,"t":3400,"y":0.05},{"k":1,"t":3430,"y":0.04},{"k":1,"t":3460,"y":0.05},{"k":1,"t":3490,"y":0.04},{"k":1,"t":3520,"y":0.05},{"k":1,"t":3550,"y":0.04},{"k":1,"t":3580,"y":0.05},{"k":1,"t":3610,"y":0.04},{"k":1,"t":3640,"y":0.05},{"k":1,"t":3670,"y":0.04},{"k":1,"t":3700,"y":0.05},{"k":1,"t":3730,"y":0.04},{"k":1,"t":3760,"y":0.05},{"k":1,"t":3790,"y":0.07},{"k":1,"t":3820,"y":0.04},{"k":1,"t":3850,"y":0.05},{"k":1,"t":3880,"y":0.04},{"k":1,"t":3910,"y":0.05},{"k":1,"t":3940,"y":0.04},{"k":1,"t":3961,"y":0.08},{"k":1,"t":3980,"y":0.05},{"k":1,"t":4000,"y":0.06}
]},
"layer": [
{"data": {"values": [{}]},
 "mark": {"type": "rect", "fill": "transparent", "stroke": "#333", "strokeWidth": 1},
 "encoding": {"x": {"datum": -96, "type": "quantitative", "axis": null}, "x2": {"datum": 174}, "y": {"datum": -0.446, "type": "quantitative", "axis": null}, "y2": {"datum": 8.24}}},
{"transform": [{"filter": "datum.k > 1"}],
 "mark": {"type": "line", "strokeWidth": 1.2, "clip": true},
 "encoding": {
  "x": {"field": "t", "type": "quantitative", "scale": {"domain": [200, 4000], "nice": false, "zero": false},
   "axis": {"orient": "bottom", "values": [500,1000,1500,2000,2500,3000,3500,4000], "labelExpr": "replace(format(datum.value/1e9,'~e'),'-','−0')", "tickSize": -7, "labelPadding": 12, "labelFontSize": 13, "labelFlush": false, "labelOverlap": false, "title": "time (s)", "titleX": 561, "titleY": 37, "titleAlign": "left", "titleBaseline": "alphabetic", "titleFontSize": 16, "titleFontWeight": "normal"}},
  "y": {"field": "y", "type": "quantitative", "scale": {"domain": [0, 8], "nice": false, "zero": false},
   "axis": {"orient": "left", "values": [0.38,1,1.19,2,2.81,3,3.62,4,4.43,5,5.24,6,6.05,6.86,7,7.67], "labelExpr": "abs((datum.value-0.38)/0.81-round((datum.value-0.38)/0.81))<0.01 ? 'n°'+(round((datum.value-0.38)/0.81)+1) : ''", "tickSize": -7, "tickOpacity": {"condition": {"test": "datum.value % 1 === 0", "value": 1}, "value": 0}, "labelAlign": "left", "labelBaseline": "middle", "labelPadding": 47, "labelFontSize": 15, "labelOverlap": false, "labelFlush": false, "title": "Absolute value of S11 (U.A.)", "titleAngle": 0, "titleAlign": "left", "titleBaseline": "alphabetic", "titleX": -53, "titleY": -24, "titleFontSize": 16, "titleFontWeight": "normal"}},
  "color": {"field": "k", "type": "nominal", "scale": {"domain": [2,3,4,5,6,7,8,9,10], "range": ["#ff0000","#00ee00","#0000ff","#ff00ff","#00ffff","#ffff00","#000000","#cc6a1e","#87cefa"]}, "legend": null}
 }},
{"transform": [{"filter": "datum.k == 1"}],
 "mark": {"type": "line", "strokeWidth": 1.2, "clip": true, "color": "#ff0000", "strokeDash": [4, 3]},
 "encoding": {
  "x": {"field": "t", "type": "quantitative", "scale": {"domain": [200, 4000], "nice": false, "zero": false},
   "axis": {"orient": "top", "values": [500,1000,1500,2000,2500,3000,3500,4000], "tickSize": -7, "labels": false, "title": null}},
  "y": {"field": "y", "type": "quantitative", "scale": {"domain": [0, 8], "nice": false, "zero": false},
   "axis": {"orient": "right", "values": [1,2,3,4,5,6,7], "tickSize": -7, "labels": false, "title": null}}
 }}
]
}
